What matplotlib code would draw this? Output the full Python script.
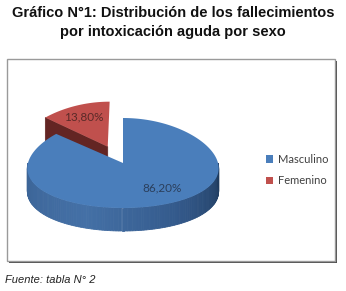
import numpy as np
import matplotlib
matplotlib.use("Agg")
import matplotlib.pyplot as plt
from matplotlib.patches import Polygon, Rectangle, Patch

labels = ['Masculino', 'Femenino']
values = [86.2, 13.8]
pct_text = ['86,20%', '13,80%']
top_colors = ['#4a7ebb', '#c0504d']
face_colors = ['#3a679c', '#632523']
explode = [0.0, 0.4]

title = 'Gráfico N°1: Distribución de los fallecimientos\npor intoxicación aguda por sexo'
source = 'Fuente: tabla N° 2'

# geometry of the fake 3d pie (pixel units, y down)
cx, cy = 123, 163
rx, ry = 95, 45
depth = 23
persp = 0.12


def proj(u, v, h):
    # u, v in unit disc, h = 1 top surface, 0 bottom
    x = cx + rx * u * (1 - persp * v)
    y = cy - ry * v + depth * (1 - h)
    return x, y


def side_color(t):
    # t angle in degrees on the front (180..360)
    pts = [180, 250, 300, 360]
    cols = np.array([[58, 98, 148], [68, 112, 166], [52, 90, 140], [30, 58, 92]]) / 255
    return [np.interp(t, pts, cols[:, i]) for i in range(3)]


fig = plt.figure(figsize=(3.46, 2.91), dpi=100)
ax = fig.add_axes([0, 0, 1, 1])
ax.set_xlim(0, 346)
ax.set_ylim(291, 0)
ax.axis('off')

# frame with shadow
ax.add_patch(Rectangle((9, 61), 328, 202, facecolor='#4d4d4d', edgecolor='none', zorder=0))
ax.add_patch(Rectangle((7, 59), 328, 202, facecolor='white', edgecolor='#9a9a9a', lw=1, zorder=1))

total = sum(values)
fracs = [v / total for v in values]
# Femenino starts at 90 deg going counterclockwise, Masculino after it
start = 90.0
spans = []
a = start
for f in fracs[::-1]:
    spans.append((a, a + 360 * f))
    a += 360 * f
spans = spans[::-1]  # back to labels order

# red (exploded) slice first
i = 1
a0, a1 = spans[i]
mid = np.radians((a0 + a1) / 2)
ox, oy = explode[i] * np.cos(mid), explode[i] * np.sin(mid)
t1 = np.radians(a1)
eu, ev = ox + np.cos(t1), oy + np.sin(t1)
face = [proj(ox, oy, 1), proj(eu, ev, 1), proj(eu, ev, 0), proj(ox, oy, 0)]
ax.add_patch(Polygon(face, closed=True, facecolor=face_colors[i], edgecolor=face_colors[i], lw=0.5, zorder=2))
th = np.radians(np.linspace(a0, a1, 60))
top = [proj(ox, oy, 1)] + [proj(ox + np.cos(t), oy + np.sin(t), 1) for t in th]
ax.add_patch(Polygon(top, closed=True, facecolor=top_colors[i], edgecolor='none', zorder=3))

# blue slice: front wall then top
i = 0
a0, a1 = spans[i]
ws = np.linspace(180, 360, 120)
for k in range(len(ws) - 1):
    t0, t1 = np.radians(ws[k]), np.radians(ws[k + 1])
    q = [proj(np.cos(t0), np.sin(t0), 1), proj(np.cos(t1), np.sin(t1), 1),
         proj(np.cos(t1), np.sin(t1), 0), proj(np.cos(t0), np.sin(t0), 0)]
    c = side_color((ws[k] + ws[k + 1]) / 2)
    ax.add_patch(Polygon(q, closed=True, facecolor=c, edgecolor=c, lw=0.6, zorder=4))
th = np.radians(np.linspace(a0, a1, 300))
top = [proj(0, 0, 1)] + [proj(np.cos(t), np.sin(t), 1) for t in th]
ax.add_patch(Polygon(top, closed=True, facecolor=top_colors[i], edgecolor='none', zorder=5))

# data labels
ax.text(162, 188, pct_text[0], ha='center', va='center', fontsize=8.5,
        family='Lato', color='#2b3f5c', zorder=6)
ax.text(84, 117, pct_text[1], ha='center', va='center', fontsize=8.5,
        family='Lato', color='#5a2a28', zorder=6)

handles = [Patch(facecolor=c, edgecolor='none') for c in top_colors]
leg = ax.legend(handles, labels, loc='center left', bbox_to_anchor=(256, 170),
                bbox_transform=ax.transData, frameon=False, handlelength=0.65,
                handleheight=0.65, handletextpad=0.4, labelspacing=0.95,
                prop={'family': 'Lato', 'size': 8})
for t in leg.get_texts():
    t.set_color('#404040')

fig.text(0.5, 1 - 22.5 / 291, title, ha='center', va='center', fontsize=10.5,
         fontweight='bold', family='Liberation Sans', linespacing=1.45, color='#111111')
fig.text(5 / 346, 1 - 280 / 291, source, ha='left', va='center', fontsize=8,
         style='italic', family='Liberation Sans', color='#222222')

fig.savefig('out.png', dpi=100)
